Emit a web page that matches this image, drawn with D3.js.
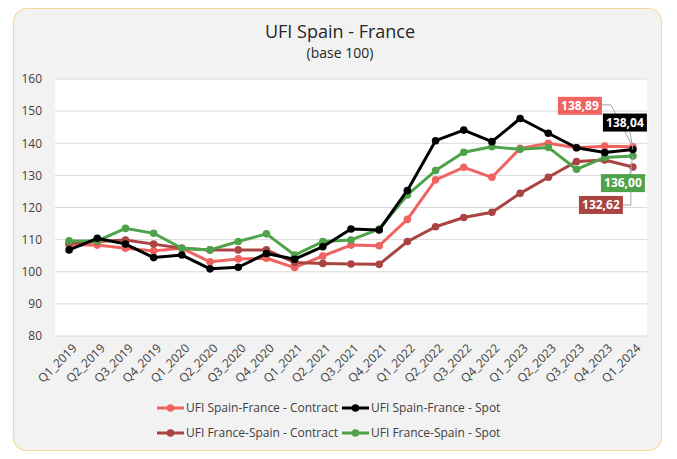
<!DOCTYPE html>
<html lang="en">
<head>
<meta charset="UTF-8">
<title>UFI Spain - France</title>
<style>
  body { margin: 0; background: #fff; }
  text { font-family: "Open Sans", sans-serif; }
</style>
</head>
<body>
<script src="https://cdn.jsdelivr.net/npm/d3@7"></script>
<script>
  var width = 677, height = 459;

  // data
  var quarters = ["Q1_2019","Q2_2019","Q3_2019","Q4_2019","Q1_2020","Q2_2020","Q3_2020","Q4_2020",
    "Q1_2021","Q2_2021","Q3_2021","Q4_2021","Q1_2022","Q2_2022","Q3_2022","Q4_2022",
    "Q1_2023","Q2_2023","Q3_2023","Q4_2023","Q1_2024"];
  var sfContract = [108.3,108.3,107.3,106.5,107.3,103.1,104.0,104.2,101.3,104.9,108.3,108.1,116.3,128.6,132.5,129.4,138.4,140.0,138.6,139.1,138.89];
  var sfSpot     = [106.8,110.4,108.6,104.4,105.2,100.9,101.4,105.7,103.9,107.8,113.3,113.0,125.3,140.8,144.1,140.5,147.7,143.1,138.6,137.1,138.04];
  var fsContract = [108.9,109.4,109.9,108.6,107.3,106.8,106.8,106.8,102.9,102.6,102.4,102.3,109.4,114.0,116.9,118.5,124.4,129.4,134.3,134.8,132.62];
  var fsSpot     = [109.6,109.6,113.5,112.0,107.3,106.8,109.4,111.8,105.2,109.4,109.9,113.3,123.9,131.5,137.2,138.9,138.1,138.7,131.9,135.6,136.00];
  var yTicks = [80,90,100,110,120,130,140,150,160];

  var series = [
    { name: "UFI Spain-France - Contract", values: sfContract, color: "#ef6461", lx: -53, ly: -41 },
    { name: "UFI France-Spain - Contract", values: fsContract, color: "#a94442", lx: -32, ly: 38 },
    { name: "UFI France-Spain - Spot", values: fsSpot, color: "#4ea34a", lx: -10, ly: 27 },
    { name: "UFI Spain-France - Spot", values: sfSpot, color: "#000000", lx: -8, ly: -27 }
  ];

  var svg = d3.select("body").append("svg")
    .attr("width", width).attr("height", height);

  // frame
  svg.append("rect")
    .attr("x", 13.5).attr("y", 8.5).attr("width", 648).attr("height", 442)
    .attr("rx", 13).attr("fill", "#f2f2f2").attr("stroke", "#f7d998").attr("stroke-width", 1.2);

  var plotL = 55, plotR = 647, plotT = 79, plotB = 336;

  svg.append("rect")
    .attr("x", plotL).attr("y", plotT).attr("width", plotR - plotL).attr("height", plotB - plotT)
    .attr("fill", "#fff");

  var x = d3.scalePoint().domain(quarters).range([plotL, plotR]).padding(0.5);
  var y = d3.scaleLinear().domain([80, 160]).range([plotB, plotT]);

  // title
  svg.append("text").attr("x", 340).attr("y", 38).attr("text-anchor", "middle")
    .attr("font-size", 18).attr("fill", "#262626").text("UFI Spain - France");
  svg.append("text").attr("x", 340).attr("y", 58).attr("text-anchor", "middle")
    .attr("font-size", 14).attr("fill", "#262626").text("(base 100)");

  // gridlines
  svg.append("g").selectAll("line").data(yTicks).enter().append("line")
    .attr("x1", plotL).attr("x2", plotR)
    .attr("y1", function (d) { return y(d); }).attr("y2", function (d) { return y(d); })
    .attr("stroke", "#d9d9d9").attr("stroke-width", 1);

  // y axis
  var yAxis = svg.append("g").attr("transform", "translate(" + plotL + ",0)")
    .call(d3.axisLeft(y).tickValues(yTicks).tickSize(0).tickPadding(13));
  yAxis.select(".domain").remove();
  yAxis.selectAll("text").attr("font-size", 12).attr("fill", "#404040")
    .style("font-family", "'Open Sans', sans-serif");

  // x axis
  var xAxis = svg.append("g").attr("transform", "translate(0," + plotB + ")")
    .call(d3.axisBottom(x).tickSize(0));
  xAxis.select(".domain").remove();
  xAxis.selectAll("text")
    .attr("font-size", 12).attr("fill", "#404040")
    .style("font-family", "'Open Sans', sans-serif")
    .attr("text-anchor", "end")
    .attr("x", 0).attr("y", 0).attr("dy", "0.35em")
    .attr("transform", "translate(5,10) rotate(-45)");

  // lines
  var line = d3.line()
    .x(function (d, i) { return x(quarters[i]); })
    .y(function (d) { return y(d); });

  series.forEach(function (s) {
    var g = svg.append("g");
    g.append("path").attr("d", line(s.values))
      .attr("fill", "none").attr("stroke", s.color).attr("stroke-width", 3)
      .attr("stroke-linejoin", "round");
    g.selectAll("circle").data(s.values).enter().append("circle")
      .attr("cx", function (d, i) { return x(quarters[i]); })
      .attr("cy", function (d) { return y(d); })
      .attr("r", 3.8).attr("fill", s.color);
  });

  // end labels
  var fmt = function (v) { return v.toFixed(2).replace(".", ","); };
  series.forEach(function (s) {
    var last = s.values[s.values.length - 1];
    var px = x(quarters[quarters.length - 1]), py = y(last);
    var cx = px + s.lx, cy = py + s.ly;
    var bw = 44, bh = 18;
    // leader line
    var pts;
    if (s.ly < 0 && s.lx < -30) pts = [[cx + bw / 2, cy - 1], [cx + bw / 2 + 9, cy - 1], [px, py]];
    else if (s.ly < 0) pts = [[cx + 5, cy + bh / 2], [px, py]];
    else if (s.lx < -30) pts = [[cx + bw / 2, cy], [px - 2, cy], [px - 2, py]];
    else pts = [[cx + 7, cy - bh / 2], [px, py]];
    svg.append("path").attr("d", d3.line()(pts))
      .attr("fill", "none").attr("stroke", "#a6a6a6").attr("stroke-width", 1);
    svg.append("rect").attr("x", cx - bw / 2).attr("y", cy - bh / 2)
      .attr("width", bw).attr("height", bh).attr("fill", s.color);
    svg.append("text").attr("x", cx).attr("y", cy).attr("dy", "0.36em")
      .attr("text-anchor", "middle").attr("font-size", 12).attr("font-weight", "bold")
      .attr("fill", "#fff").text(fmt(last));
  });

  // legend
  var legendItems = [
    { s: series[0], x: 157, y: 408 },
    { s: series[3], x: 342, y: 408 },
    { s: series[1], x: 157, y: 433 },
    { s: series[2], x: 342, y: 433 }
  ];
  var lg = svg.append("g").selectAll("g").data(legendItems).enter().append("g")
    .attr("transform", function (d) { return "translate(" + d.x + "," + d.y + ")"; });
  lg.append("line").attr("x1", 0).attr("x2", 27).attr("y1", 0).attr("y2", 0)
    .attr("stroke", function (d) { return d.s.color; }).attr("stroke-width", 3);
  lg.append("circle").attr("cx", 13.5).attr("cy", 0).attr("r", 3.8)
    .attr("fill", function (d) { return d.s.color; });
  lg.append("text").attr("x", 29).attr("y", 0).attr("dy", "0.35em")
    .attr("font-size", 12).attr("fill", "#404040")
    .text(function (d) { return d.s.name; });
</script>
</body>
</html>
